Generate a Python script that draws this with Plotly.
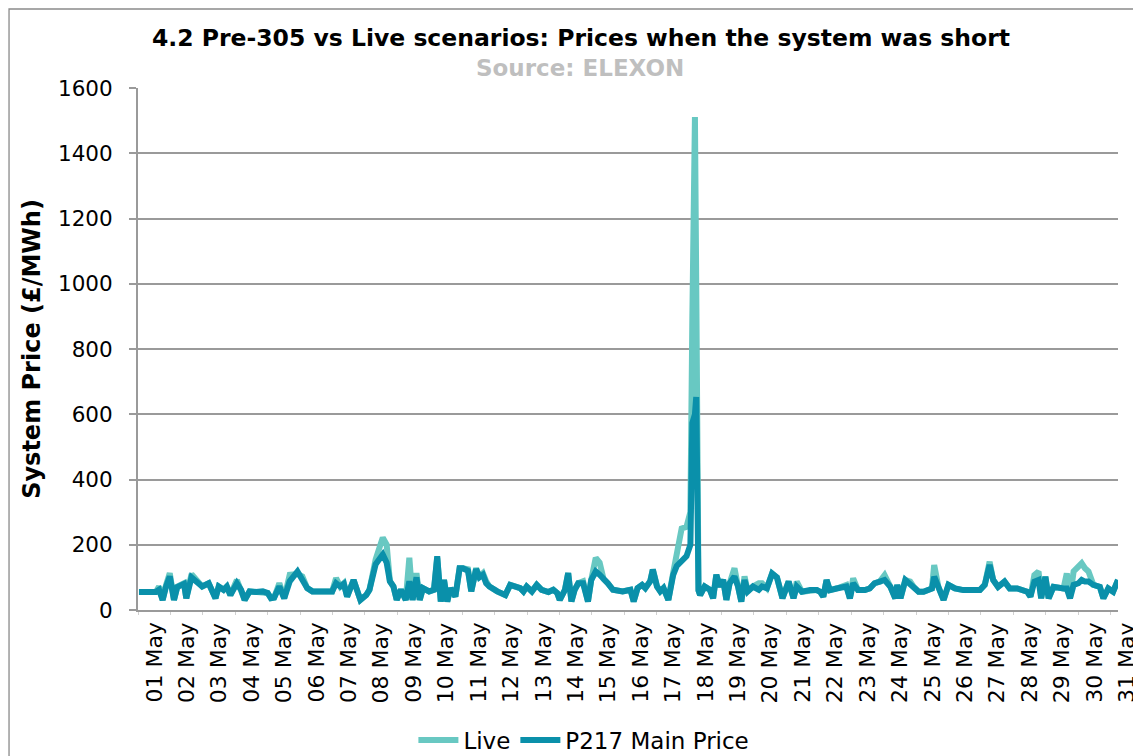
import plotly.graph_objects as go

# Time in days since 01 May 00:00, prices in £/MWh
day_offset = [
    0.03, 0.35, 0.55, 0.65, 0.76, 0.86, 0.98, 1.11, 1.21, 1.42, 1.49, 1.65, 1.78, 1.88, 1.98,
    2.18, 2.39, 2.49, 2.64, 2.74, 2.85, 3.05, 3.18, 3.29, 3.44, 3.64, 3.85, 4.00, 4.10, 4.20,
    4.36, 4.51, 4.68, 4.92, 5.07, 5.22, 5.38, 5.68, 5.99, 6.11, 6.24, 6.35, 6.45, 6.65, 6.86,
    7.04, 7.14, 7.33, 7.55, 7.67, 7.77, 7.88, 7.98, 8.11, 8.26, 8.37, 8.47, 8.59, 8.69, 8.79,
    8.98, 9.13, 9.23, 9.34, 9.44, 9.54, 9.64, 9.79, 9.92, 10.02, 10.18, 10.28, 10.43, 10.53, 10.64,
    10.74, 10.84, 11.08, 11.33, 11.48, 11.64, 11.79, 11.89, 11.99, 12.15, 12.30, 12.45, 12.66, 12.81, 12.93,
    13.01, 13.17, 13.27, 13.37, 13.47, 13.58, 13.73, 13.88, 13.98, 14.12, 14.24, 14.36, 14.49, 14.65, 14.95,
    15.19, 15.29, 15.41, 15.55, 15.65, 15.80, 15.88, 16.01, 16.11, 16.21, 16.36, 16.51, 16.62, 16.77, 16.92,
    17.04, 17.10, 17.18, 17.22, 17.29, 17.34, 17.48, 17.64, 17.74, 17.84, 17.95, 18.05, 18.15, 18.25, 18.40,
    18.51, 18.61, 18.71, 18.81, 18.97, 19.15, 19.25, 19.40, 19.56, 19.71, 19.88, 20.07, 20.22, 20.32, 20.48,
    20.73, 20.94, 21.04, 21.14, 21.24, 21.34, 21.55, 21.70, 21.85, 21.96, 22.06, 22.21, 22.42, 22.57, 22.72,
    22.88, 23.03, 23.21, 23.36, 23.42, 23.52, 23.67, 23.82, 23.93, 24.08, 24.23, 24.39, 24.49, 24.56, 24.69,
    24.85, 25.00, 25.20, 25.46, 25.76, 25.97, 26.12, 26.27, 26.38, 26.53, 26.73, 26.89, 27.12, 27.33, 27.43,
    27.53, 27.65, 27.78, 27.86, 27.99, 28.09, 28.24, 28.40, 28.55, 28.65, 28.75, 28.86, 29.01, 29.11, 29.21,
    29.32, 29.47, 29.67, 29.78, 29.93, 30.08, 30.23,
]

live_price = [
    55, 55, 55, 72, 31, 75, 113, 31, 72, 82, 36, 110, 95, 82, 72,
    82, 36, 72, 62, 72, 46, 92, 62, 31, 57, 55, 57, 52, 36, 38,
    82, 36, 108, 110, 103, 67, 57, 55, 57, 98, 72, 82, 41, 92, 31,
    46, 62, 155, 222, 200, 88, 72, 31, 62, 31, 160, 31, 113, 31, 67,
    57, 62, 160, 26, 92, 26, 67, 41, 128, 128, 125, 57, 128, 103, 113,
    88, 72, 57, 46, 77, 72, 67, 57, 72, 57, 77, 62, 55, 62, 52,
    31, 62, 113, 26, 62, 82, 88, 26, 92, 160, 145, 95, 82, 62, 57,
    62, 26, 67, 77, 67, 88, 124, 72, 57, 67, 31, 115, 165, 250, 255,
    300, 900, 1511, 1000, 60, 46, 72, 62, 36, 108, 72, 93, 31, 82, 128,
    72, 26, 103, 57, 72, 82, 82, 67, 112, 100, 36, 87, 36, 87, 56,
    61, 61, 56, 41, 92, 61, 66, 71, 77, 36, 97, 61, 61, 66, 82,
    87, 107, 71, 36, 77, 36, 92, 87, 71, 56, 56, 61, 66, 138, 71,
    31, 77, 66, 61, 61, 61, 77, 148, 92, 71, 87, 66, 66, 61, 56,
    41, 107, 118, 36, 102, 36, 71, 66, 66, 112, 36, 118, 133, 143, 128,
    118, 77, 71, 36, 66, 56, 92,
]

p217_price = [
    55, 55, 55, 62, 31, 70, 103, 31, 70, 80, 36, 100, 88, 80, 72,
    82, 36, 72, 62, 72, 46, 82, 62, 31, 57, 55, 57, 52, 36, 38,
    72, 36, 88, 118, 92, 67, 57, 55, 57, 82, 72, 80, 41, 92, 31,
    46, 62, 140, 170, 145, 88, 72, 31, 62, 31, 88, 31, 100, 31, 67,
    57, 62, 165, 26, 92, 26, 67, 41, 128, 128, 120, 57, 125, 100, 108,
    82, 72, 57, 46, 77, 72, 67, 57, 72, 57, 77, 62, 55, 62, 52,
    31, 62, 113, 26, 62, 82, 82, 26, 92, 118, 108, 92, 82, 62, 57,
    62, 26, 67, 77, 67, 88, 124, 72, 57, 67, 31, 108, 135, 150, 165,
    200, 573, 600, 653, 60, 46, 72, 62, 36, 108, 72, 93, 31, 82, 103,
    72, 26, 92, 57, 72, 62, 72, 67, 112, 100, 36, 87, 36, 72, 56,
    61, 61, 56, 41, 92, 61, 66, 71, 72, 36, 82, 61, 61, 66, 82,
    87, 92, 71, 36, 77, 36, 92, 77, 71, 56, 56, 61, 66, 102, 71,
    31, 77, 66, 61, 61, 61, 77, 138, 92, 71, 87, 66, 66, 61, 56,
    41, 87, 92, 36, 102, 36, 71, 66, 66, 66, 36, 77, 82, 92, 87,
    87, 77, 71, 36, 66, 56, 92,
]

day_ticks = list(range(31))
day_labels = ["%02d May" % (d + 1) for d in day_ticks]
y_ticks = [0, 200, 400, 600, 800, 1000, 1200, 1400, 1600]

LIVE_COLOR = "#68C8C2"
P217_COLOR = "#0A90AA"
GRID = "#9A9A9A"
FONT = "DejaVu Sans"

fig = go.Figure()
fig.add_trace(go.Scatter(x=day_offset, y=live_price, mode="lines", name="Live",
                         line=dict(color=LIVE_COLOR, width=6)))
fig.add_trace(go.Scatter(x=day_offset, y=p217_price, mode="lines", name="P217 Main Price",
                         line=dict(color=P217_COLOR, width=6)))

annotations = []
for d, lab in zip(day_ticks, day_labels):
    annotations.append(dict(
        x=d, xref="x", xshift=15.5, y=0, yref="paper", yshift=-12,
        text=lab, textangle=-90, showarrow=False, xanchor="center", yanchor="top",
        borderpad=0, font=dict(family=FONT, size=22, color="#000000")))

annotations.append(dict(
    x=0.451, xref="paper", y=1.038, yref="paper", text="<b>Source: ELEXON</b>",
    showarrow=False, xanchor="center", yanchor="middle",
    font=dict(family=FONT, size=23, color="#BFBFBF")))

# page has an 8px body margin: figure is sized/offset to compensate
fig.update_layout(
    width=1133, height=748,
    margin=dict(l=130, r=23, t=80, b=146, autoexpand=False),
    paper_bgcolor="white", plot_bgcolor="white",
    title=dict(text="<b>4.2 Pre-305 vs Live scenarios: Prices when the system was short</b>",
               x=0.5057, xanchor="center", y=0.9599, yanchor="middle", yref="container",
               font=dict(family=FONT, size=23.5, color="#000000")),
    showlegend=True,
    legend=dict(orientation="h", x=0.455, xanchor="center", y=-0.249, yanchor="middle",
                font=dict(family=FONT, size=23, color="#000000"), bgcolor="rgba(0,0,0,0)",
                itemwidth=40),
    annotations=annotations,
    shapes=[dict(type="rect", xref="paper", yref="paper", x0=-0.1316, x1=1.06, y0=-0.35, y1=1.1513,
                 line=dict(color="#8A8A8A", width=1.3), fillcolor="rgba(0,0,0,0)", layer="below")],
)

fig.update_xaxes(range=[0, 30.23], tickvals=day_ticks, showticklabels=False,
                 ticks="outside", ticklen=3, tickcolor="#D0D0D0", tickwidth=1,
                 showgrid=False, zeroline=False, showline=True, linecolor=GRID, linewidth=2)
fig.update_yaxes(range=[0, 1600], tickvals=y_ticks, ticks="outside", ticklen=7,
                 tickcolor=GRID, tickwidth=1.5, showgrid=True, gridcolor=GRID, gridwidth=2,
                 zeroline=False, showline=True, linecolor=GRID, linewidth=2,
                 ticklabelstandoff=12,
                 tickfont=dict(family=FONT, size=21.5, color="#000000"),
                 title=dict(text="<b>System Price (£/MWh)</b>", standoff=11,
                            font=dict(family=FONT, size=24, color="#000000")))

fig.write_html("out.html", config={"displayModeBar": False})
